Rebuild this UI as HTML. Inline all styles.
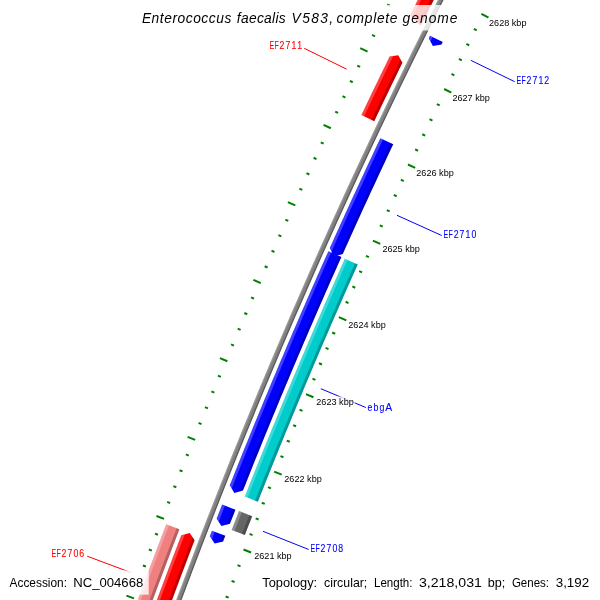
<!DOCTYPE html>
<html><head><meta charset="utf-8"><title>map</title>
<style>html,body{margin:0;padding:0;background:#fff;}svg{display:block;will-change:transform;}</style></head>
<body><svg width="600" height="600" viewBox="0 0 600 600">
<defs><clipPath id="c1"><polygon points="420.70,25.69 464.84,-61.21 452.23,-67.74 410.03,15.27"/></clipPath><clipPath id="c2"><polygon points="374.27,121.15 377.05,115.30 379.84,109.46 382.64,103.61 385.44,97.77 388.25,91.94 391.07,86.10 393.89,80.27 396.72,74.45 399.55,68.62 402.40,62.80 398.25,55.13 389.64,56.57 386.79,62.40 383.95,68.24 381.11,74.08 378.28,79.92 375.46,85.77 372.64,91.62 369.83,97.48 367.03,103.33 364.23,109.19 361.44,115.06"/></clipPath><clipPath id="c3"><polygon points="429.98,35.77 428.75,38.26 432.87,45.94 441.47,44.57 442.70,42.08"/></clipPath><clipPath id="c4"><polygon points="380.38,138.15 377.51,144.23 374.65,150.31 371.79,156.39 368.94,162.48 366.10,168.58 363.27,174.67 360.44,180.77 357.62,186.88 354.80,192.98 352.00,199.09 349.20,205.20 346.41,211.32 343.62,217.44 340.84,223.56 338.07,229.68 335.30,235.81 332.55,241.94 329.80,248.08 333.80,256.51 342.76,253.88 345.50,247.76 348.25,241.64 351.01,235.53 353.77,229.42 356.55,223.31 359.33,217.21 362.11,211.11 364.90,205.01 367.70,198.92 370.51,192.83 373.33,186.74 376.15,180.65 378.97,174.57 381.81,168.49 384.65,162.42 387.50,156.35 390.35,150.28 393.22,144.21"/></clipPath><clipPath id="c5"><polygon points="328.42,251.15 325.69,257.26 322.97,263.37 320.26,269.49 317.56,275.60 314.86,281.72 312.17,287.85 309.48,293.97 306.80,300.10 304.13,306.23 301.47,312.37 298.81,318.51 296.16,324.65 293.52,330.79 290.89,336.94 288.26,343.09 285.64,349.24 283.02,355.40 280.41,361.56 277.81,367.72 275.22,373.89 272.63,380.06 270.05,386.23 267.48,392.40 264.91,398.58 262.36,404.76 259.80,410.94 257.26,417.13 254.72,423.31 252.19,429.51 249.67,435.70 247.15,441.90 244.64,448.10 242.14,454.30 239.65,460.50 237.16,466.71 234.68,472.92 232.20,479.14 229.74,485.36 234.35,492.98 242.94,490.59 245.40,484.38 247.87,478.18 250.34,471.99 252.82,465.79 255.31,459.60 257.81,453.42 260.31,447.23 262.82,441.05 265.34,434.87 267.86,428.69 270.40,422.52 272.93,416.35 275.48,410.18 278.03,404.02 280.59,397.85 283.16,391.70 285.73,385.54 288.31,379.39 290.90,373.24 293.49,367.09 296.09,360.94 298.70,354.80 301.32,348.66 303.94,342.53 306.57,336.40 309.21,330.27 311.85,324.14 314.50,318.02 317.16,311.90 319.82,305.78 322.49,299.67 325.17,293.55 327.85,287.45 330.55,281.34 333.24,275.24 335.95,269.14 338.66,263.04 341.38,256.95"/></clipPath><clipPath id="c6"><polygon points="244.77,496.55 247.21,490.40 249.65,484.25 252.10,478.10 254.55,471.96 257.02,465.82 259.49,459.68 261.97,453.54 264.45,447.41 266.94,441.28 269.44,435.15 271.94,429.02 274.46,422.90 276.97,416.78 279.50,410.66 282.03,404.55 284.57,398.44 287.12,392.33 289.67,386.23 292.23,380.12 294.80,374.02 297.37,367.93 299.95,361.83 302.54,355.74 305.13,349.66 307.74,343.57 310.34,337.49 312.96,331.41 315.58,325.33 318.21,319.26 320.85,313.19 323.49,307.12 326.14,301.06 328.79,295.00 331.46,288.94 334.13,282.89 336.80,276.83 339.49,270.78 342.18,264.74 344.87,258.70 357.75,264.45 355.06,270.48 352.37,276.51 349.70,282.54 347.03,288.58 344.36,294.62 341.71,300.67 339.06,306.71 336.41,312.76 333.78,318.81 331.15,324.87 328.52,330.93 325.91,336.99 323.30,343.05 320.70,349.12 318.10,355.19 315.51,361.26 312.93,367.34 310.36,373.42 307.79,379.50 305.23,385.59 302.68,391.67 300.13,397.76 297.59,403.86 295.06,409.95 292.53,416.05 290.01,422.15 287.50,428.26 284.99,434.37 282.49,440.48 280.00,446.59 277.52,452.71 275.04,458.83 272.57,464.95 270.10,471.07 267.64,477.20 265.19,483.33 262.75,489.46 260.31,495.60 257.88,501.73"/></clipPath><clipPath id="c7"><polygon points="222.16,504.56 220.32,509.27 218.48,513.98 216.65,518.69 221.43,525.97 229.88,523.84 231.71,519.14 233.55,514.44 235.38,509.75"/></clipPath><clipPath id="c8"><polygon points="231.69,529.96 233.53,525.22 235.37,520.48 237.22,515.75 239.08,511.01 252.20,516.16 250.35,520.88 248.51,525.61 246.67,530.33 244.83,535.06"/></clipPath><clipPath id="c9"><polygon points="212.01,530.64 209.83,536.30 214.64,543.56 223.08,541.40 225.26,535.76"/></clipPath><clipPath id="c10"><polygon points="151.18,604.21 153.50,597.95 155.82,591.69 158.15,585.44 160.48,579.19 162.82,572.95 165.17,566.70 167.53,560.46 169.89,554.22 172.26,547.99 174.64,541.75 177.02,535.52 179.41,529.29 166.25,524.23 163.86,530.48 161.47,536.72 159.08,542.97 156.71,549.22 154.34,555.47 151.98,561.73 149.62,567.99 147.28,574.25 144.94,580.51 142.60,586.78 140.28,593.05 137.96,599.32"/></clipPath><clipPath id="c11"><polygon points="168.16,610.47 170.33,604.61 172.51,598.75 174.68,592.89 176.87,587.04 179.06,581.19 181.26,575.34 183.47,569.49 185.68,563.64 187.89,557.80 190.12,551.96 192.35,546.12 194.58,540.28 189.77,533.01 181.32,535.20 179.08,541.05 176.85,546.90 174.62,552.76 172.40,558.61 170.18,564.47 167.97,570.33 165.77,576.20 163.57,582.07 161.38,587.93 159.19,593.81 157.02,599.68 154.84,605.56"/></clipPath></defs>
<rect width="600" height="600" fill="#fff"/>
<path d="M174.17,612.69 L180.03,596.87 L185.94,581.07 L191.90,565.28 L197.90,549.51 L203.95,533.76 L210.04,518.02 L216.18,502.31 L222.36,486.61 L228.58,470.92 L234.85,455.26 L241.17,439.62 L247.53,423.99 L253.94,408.38 L260.39,392.79 L266.88,377.22 L273.42,361.66 L280.01,346.13 L286.64,330.61 L293.31,315.11 L300.03,299.64 L306.79,284.18 L313.59,268.74 L320.44,253.32 L327.34,237.92 L334.28,222.54 L341.26,207.18 L348.29,191.84 L355.36,176.52 L362.47,161.22 L369.63,145.94 L376.83,130.68 L384.07,115.45 L391.36,100.23 L398.70,85.03 L406.07,69.86 L413.49,54.70 L420.96,39.57 L428.46,24.46 L436.01,9.37 L443.60,-5.70 L451.24,-20.74 L458.92,-35.77 L466.64,-50.77" stroke="#808080" stroke-width="5.0" fill="none"/>
<path d="M172.41,612.04 L178.28,596.21 L184.19,580.41 L190.15,564.61 L196.15,548.84 L202.20,533.08 L208.29,517.34 L214.43,501.62 L220.61,485.92 L226.84,470.23 L233.12,454.56 L239.43,438.91 L245.80,423.28 L252.20,407.66 L258.66,392.07 L265.15,376.49 L271.70,360.93 L278.28,345.39 L284.91,329.87 L291.59,314.37 L298.31,298.89 L305.07,283.42 L311.88,267.98 L318.73,252.56 L325.63,237.15 L332.57,221.77 L339.55,206.40 L346.58,191.06 L353.65,175.73 L360.77,160.43 L367.93,145.14 L375.13,129.88 L382.38,114.64 L389.67,99.42 L397.01,84.21 L404.39,69.04 L411.81,53.88 L419.27,38.74 L426.78,23.62 L434.34,8.53 L441.93,-6.54 L449.57,-21.59 L457.25,-36.62 L464.97,-51.63" stroke="#fff" stroke-opacity="0.2" stroke-width="1.25" fill="none"/>
<path d="M175.93,613.34 L181.79,597.52 L187.70,581.72 L193.65,565.94 L199.65,550.18 L205.70,534.43 L211.79,518.70 L217.92,502.99 L224.10,487.30 L230.33,471.62 L236.59,455.96 L242.91,440.32 L249.27,424.70 L255.67,409.09 L262.12,393.51 L268.61,377.94 L275.15,362.39 L281.73,346.86 L288.36,331.35 L295.03,315.86 L301.74,300.38 L308.50,284.93 L315.31,269.50 L322.16,254.08 L329.05,238.69 L335.98,223.31 L342.96,207.96 L349.99,192.62 L357.06,177.31 L364.17,162.01 L371.32,146.74 L378.52,131.49 L385.77,116.25 L393.05,101.04 L400.38,85.85 L407.76,70.68 L415.17,55.53 L422.64,40.40 L430.14,25.30 L437.69,10.21 L445.28,-4.85 L452.91,-19.89 L460.59,-34.91 L468.31,-49.91" stroke="#000" stroke-opacity="0.3" stroke-width="1.25" fill="none"/>
<polygon points="420.70,25.69 464.84,-61.21 452.23,-67.74 410.03,15.27" fill="#ff0000"/>
<g clip-path="url(#c1)"><polygon points="408.37,16.34 411.25,10.58 414.13,4.83 417.01,-0.93 419.90,-6.68 422.80,-12.42 425.70,-18.16 428.61,-23.90 431.53,-29.64 434.45,-35.37 437.38,-41.10 440.32,-46.83 443.26,-52.55 446.21,-58.27 449.16,-63.99 452.12,-69.70 455.67,-67.86 452.71,-62.15 449.76,-56.44 446.82,-50.72 443.88,-45.00 440.94,-39.28 438.02,-33.55 435.10,-27.83 432.18,-22.09 429.27,-16.36 426.37,-10.62 423.48,-4.88 420.59,0.87 417.70,6.62 414.83,12.37 411.96,18.12" fill="#fff" fill-opacity="0.25"/><polygon points="419.29,21.78 422.16,16.03 425.03,10.29 427.91,4.55 430.80,-1.19 433.69,-6.92 436.59,-12.65 439.49,-18.38 442.40,-24.11 445.32,-29.83 448.24,-35.54 451.17,-41.26 454.11,-46.97 457.05,-52.68 460.00,-58.39 462.95,-64.09 466.50,-62.25 463.55,-56.55 460.60,-50.85 457.66,-45.14 454.73,-39.43 451.80,-33.72 448.88,-28.01 445.97,-22.29 443.06,-16.57 440.16,-10.85 437.26,-5.12 434.37,0.61 431.49,6.34 428.61,12.08 425.74,17.82 422.88,23.56" fill="#000" fill-opacity="0.25"/></g>
<polygon points="374.27,121.15 377.05,115.30 379.84,109.46 382.64,103.61 385.44,97.77 388.25,91.94 391.07,86.10 393.89,80.27 396.72,74.45 399.55,68.62 402.40,62.80 398.25,55.13 389.64,56.57 386.79,62.40 383.95,68.24 381.11,74.08 378.28,79.92 375.46,85.77 372.64,91.62 369.83,97.48 367.03,103.33 364.23,109.19 361.44,115.06" fill="#ff0000"/>
<g clip-path="url(#c2)"><polygon points="359.81,116.16 362.68,110.13 365.55,104.11 368.43,98.09 371.32,92.07 374.21,86.06 377.11,80.05 380.02,74.04 382.94,68.03 385.86,62.03 388.78,56.04 391.72,50.04 395.31,51.80 392.38,57.79 389.45,63.79 386.53,69.78 383.62,75.78 380.72,81.79 377.82,87.79 374.93,93.80 372.04,99.81 369.16,105.83 366.29,111.85 363.43,117.87" fill="#fff" fill-opacity="0.25"/><polygon points="370.83,121.39 373.69,115.38 376.56,109.37 379.44,103.36 382.32,97.35 385.20,91.35 388.10,85.35 391.00,79.36 393.91,73.37 396.82,67.38 399.74,61.39 402.67,55.41 406.26,57.17 403.34,63.15 400.42,69.13 397.51,75.12 394.60,81.10 391.70,87.09 388.81,93.09 385.92,99.09 383.04,105.09 380.17,111.09 377.31,117.10 374.45,123.11" fill="#000" fill-opacity="0.25"/></g>
<polygon points="429.98,35.77 428.75,38.26 432.87,45.94 441.47,44.57 442.70,42.08" fill="#0000ff"/>
<g clip-path="url(#c3)"><polygon points="424.86,43.86 427.35,38.83 429.84,33.81 433.42,35.59 430.93,40.61 428.45,45.63" fill="#fff" fill-opacity="0.25"/><polygon points="435.80,49.26 438.28,44.25 440.76,39.24 444.35,41.02 441.86,46.03 439.38,51.04" fill="#000" fill-opacity="0.25"/></g>
<polygon points="380.38,138.15 377.51,144.23 374.65,150.31 371.79,156.39 368.94,162.48 366.10,168.58 363.27,174.67 360.44,180.77 357.62,186.88 354.80,192.98 352.00,199.09 349.20,205.20 346.41,211.32 343.62,217.44 340.84,223.56 338.07,229.68 335.30,235.81 332.55,241.94 329.80,248.08 333.80,256.51 342.76,253.88 345.50,247.76 348.25,241.64 351.01,235.53 353.77,229.42 356.55,223.31 359.33,217.21 362.11,211.11 364.90,205.01 367.70,198.92 370.51,192.83 373.33,186.74 376.15,180.65 378.97,174.57 381.81,168.49 384.65,162.42 387.50,156.35 390.35,150.28 393.22,144.21" fill="#0000ff"/>
<g clip-path="url(#c4)"><polygon points="325.72,254.75 328.38,248.79 331.05,242.84 333.72,236.89 336.40,230.94 339.09,225.00 341.79,219.06 344.49,213.12 347.19,207.18 349.91,201.25 352.63,195.32 355.36,189.39 358.09,183.47 360.83,177.55 363.58,171.63 366.33,165.72 369.09,159.81 371.86,153.90 374.63,148.00 377.41,142.09 380.19,136.19 383.81,137.90 381.03,143.80 378.25,149.70 375.48,155.60 372.71,161.50 369.95,167.41 367.20,173.32 364.46,179.23 361.72,185.15 358.99,191.07 356.26,196.99 353.54,202.92 350.83,208.84 348.13,214.78 345.43,220.71 342.74,226.65 340.05,232.59 337.37,238.53 334.70,244.48 332.03,250.43 329.37,256.38" fill="#fff" fill-opacity="0.25"/><polygon points="336.86,259.72 339.52,253.78 342.18,247.83 344.85,241.90 347.52,235.96 350.20,230.03 352.89,224.10 355.59,218.17 358.29,212.25 361.00,206.33 363.71,200.41 366.44,194.50 369.16,188.59 371.90,182.68 374.64,176.78 377.39,170.87 380.14,164.98 382.90,159.08 385.67,153.19 388.44,147.30 391.22,141.41 394.84,143.12 392.06,149.00 389.29,154.89 386.52,160.78 383.76,166.67 381.01,172.56 378.27,178.46 375.53,184.36 372.79,190.27 370.07,196.17 367.35,202.08 364.64,208.00 361.93,213.91 359.23,219.83 356.54,225.75 353.85,231.68 351.17,237.61 348.49,243.54 345.83,249.47 343.17,255.41 340.51,261.35" fill="#000" fill-opacity="0.25"/></g>
<polygon points="328.42,251.15 325.69,257.26 322.97,263.37 320.26,269.49 317.56,275.60 314.86,281.72 312.17,287.85 309.48,293.97 306.80,300.10 304.13,306.23 301.47,312.37 298.81,318.51 296.16,324.65 293.52,330.79 290.89,336.94 288.26,343.09 285.64,349.24 283.02,355.40 280.41,361.56 277.81,367.72 275.22,373.89 272.63,380.06 270.05,386.23 267.48,392.40 264.91,398.58 262.36,404.76 259.80,410.94 257.26,417.13 254.72,423.31 252.19,429.51 249.67,435.70 247.15,441.90 244.64,448.10 242.14,454.30 239.65,460.50 237.16,466.71 234.68,472.92 232.20,479.14 229.74,485.36 234.35,492.98 242.94,490.59 245.40,484.38 247.87,478.18 250.34,471.99 252.82,465.79 255.31,459.60 257.81,453.42 260.31,447.23 262.82,441.05 265.34,434.87 267.86,428.69 270.40,422.52 272.93,416.35 275.48,410.18 278.03,404.02 280.59,397.85 283.16,391.70 285.73,385.54 288.31,379.39 290.90,373.24 293.49,367.09 296.09,360.94 298.70,354.80 301.32,348.66 303.94,342.53 306.57,336.40 309.21,330.27 311.85,324.14 314.50,318.02 317.16,311.90 319.82,305.78 322.49,299.67 325.17,293.55 327.85,287.45 330.55,281.34 333.24,275.24 335.95,269.14 338.66,263.04 341.38,256.95" fill="#0000ff"/>
<g clip-path="url(#c5)"><polygon points="226.20,491.57 228.68,485.30 231.17,479.03 233.66,472.77 236.16,466.51 238.67,460.25 241.19,453.99 243.71,447.74 246.24,441.49 248.78,435.24 251.32,429.00 253.87,422.75 256.43,416.52 258.99,410.28 261.57,404.05 264.15,397.82 266.73,391.59 269.33,385.37 271.93,379.15 274.54,372.93 277.15,366.71 279.78,360.50 282.40,354.29 285.04,348.09 287.69,341.88 290.34,335.68 292.99,329.49 295.66,323.29 298.33,317.10 301.01,310.91 303.70,304.73 306.39,298.55 309.09,292.37 311.80,286.19 314.51,280.02 317.24,273.85 319.97,267.69 322.70,261.52 325.44,255.36 328.19,249.21 331.85,250.84 329.10,256.99 326.36,263.15 323.62,269.31 320.89,275.47 318.17,281.63 315.46,287.80 312.76,293.97 310.06,300.15 307.37,306.33 304.68,312.51 302.00,318.69 299.33,324.88 296.67,331.07 294.01,337.26 291.36,343.45 288.72,349.65 286.09,355.85 283.46,362.06 280.84,368.27 278.23,374.48 275.62,380.69 273.02,386.91 270.43,393.13 267.84,399.35 265.26,405.58 262.69,411.80 260.13,418.04 257.57,424.27 255.02,430.51 252.48,436.75 249.95,442.99 247.42,449.24 244.90,455.49 242.38,461.74 239.88,467.99 237.38,474.25 234.89,480.51 232.40,486.77 229.92,493.04" fill="#fff" fill-opacity="0.25"/><polygon points="237.55,496.05 240.02,489.79 242.51,483.54 244.99,477.29 247.49,471.04 249.99,464.79 252.50,458.55 255.02,452.31 257.55,446.07 260.08,439.84 262.62,433.61 265.16,427.38 267.71,421.15 270.27,414.93 272.84,408.71 275.42,402.49 278.00,396.28 280.59,390.07 283.18,383.86 285.78,377.65 288.39,371.45 291.01,365.25 293.64,359.06 296.27,352.86 298.91,346.67 301.55,340.49 304.20,334.30 306.86,328.12 309.53,321.94 312.20,315.77 314.88,309.60 317.57,303.43 320.27,297.26 322.97,291.10 325.68,284.94 328.40,278.78 331.12,272.63 333.85,266.48 336.59,260.33 339.33,254.19 342.98,255.82 340.24,261.96 337.50,268.11 334.78,274.25 332.05,280.40 329.34,286.55 326.63,292.71 323.93,298.87 321.24,305.03 318.55,311.19 315.87,317.36 313.20,323.53 310.54,329.70 307.88,335.88 305.23,342.06 302.58,348.24 299.95,354.43 297.32,360.62 294.70,366.81 292.08,373.00 289.47,379.20 286.87,385.40 284.28,391.61 281.69,397.81 279.11,404.02 276.54,410.24 273.97,416.45 271.41,422.67 268.86,428.89 266.32,435.12 263.78,441.34 261.25,447.57 258.73,453.81 256.21,460.04 253.71,466.28 251.20,472.52 248.71,478.77 246.22,485.02 243.74,491.27 241.27,497.52" fill="#000" fill-opacity="0.25"/></g>
<polygon points="244.77,496.55 247.21,490.40 249.65,484.25 252.10,478.10 254.55,471.96 257.02,465.82 259.49,459.68 261.97,453.54 264.45,447.41 266.94,441.28 269.44,435.15 271.94,429.02 274.46,422.90 276.97,416.78 279.50,410.66 282.03,404.55 284.57,398.44 287.12,392.33 289.67,386.23 292.23,380.12 294.80,374.02 297.37,367.93 299.95,361.83 302.54,355.74 305.13,349.66 307.74,343.57 310.34,337.49 312.96,331.41 315.58,325.33 318.21,319.26 320.85,313.19 323.49,307.12 326.14,301.06 328.79,295.00 331.46,288.94 334.13,282.89 336.80,276.83 339.49,270.78 342.18,264.74 344.87,258.70 357.75,264.45 355.06,270.48 352.37,276.51 349.70,282.54 347.03,288.58 344.36,294.62 341.71,300.67 339.06,306.71 336.41,312.76 333.78,318.81 331.15,324.87 328.52,330.93 325.91,336.99 323.30,343.05 320.70,349.12 318.10,355.19 315.51,361.26 312.93,367.34 310.36,373.42 307.79,379.50 305.23,385.59 302.68,391.67 300.13,397.76 297.59,403.86 295.06,409.95 292.53,416.05 290.01,422.15 287.50,428.26 284.99,434.37 282.49,440.48 280.00,446.59 277.52,452.71 275.04,458.83 272.57,464.95 270.10,471.07 267.64,477.20 265.19,483.33 262.75,489.46 260.31,495.60 257.88,501.73" fill="#00cccc"/>
<g clip-path="url(#c6)"><polygon points="243.22,497.75 245.69,491.51 248.16,485.28 250.64,479.05 253.13,472.83 255.62,466.60 258.13,460.38 260.63,454.16 263.15,447.95 265.67,441.74 268.20,435.53 270.74,429.32 273.28,423.12 275.84,416.92 278.39,410.72 280.96,404.52 283.53,398.33 286.11,392.14 288.70,385.96 291.29,379.78 293.89,373.60 296.50,367.42 299.12,361.24 301.74,355.07 304.37,348.91 307.00,342.74 309.65,336.58 312.30,330.42 314.95,324.26 317.62,318.11 320.29,311.96 322.97,305.82 325.65,299.67 328.35,293.53 331.05,287.39 333.75,281.26 336.47,275.13 339.19,269.00 341.91,262.87 344.65,256.75 348.30,258.39 345.57,264.50 342.84,270.62 340.12,276.75 337.41,282.88 334.71,289.01 332.01,295.14 329.32,301.28 326.63,307.42 323.96,313.56 321.29,319.70 318.63,325.85 315.97,332.00 313.32,338.16 310.68,344.32 308.05,350.48 305.42,356.64 302.80,362.81 300.19,368.98 297.58,375.15 294.98,381.33 292.39,387.50 289.80,393.69 287.23,399.87 284.65,406.06 282.09,412.25 279.53,418.44 276.98,424.64 274.44,430.84 271.91,437.04 269.38,443.24 266.86,449.45 264.34,455.66 261.84,461.88 259.34,468.09 256.84,474.31 254.36,480.53 251.88,486.76 249.41,492.99 246.94,499.22" fill="#fff" fill-opacity="0.25"/><polygon points="254.48,502.19 256.94,495.97 259.41,489.75 261.88,483.53 264.36,477.32 266.85,471.11 269.35,464.90 271.85,458.70 274.36,452.50 276.88,446.30 279.41,440.10 281.94,433.91 284.48,427.72 287.02,421.53 289.58,415.34 292.14,409.16 294.70,402.98 297.28,396.81 299.86,390.63 302.45,384.46 305.04,378.30 307.65,372.13 310.26,365.97 312.87,359.81 315.50,353.66 318.13,347.50 320.76,341.36 323.41,335.21 326.06,329.07 328.72,322.93 331.39,316.79 334.06,310.66 336.74,304.52 339.42,298.40 342.12,292.27 344.82,286.15 347.53,280.03 350.24,273.92 352.96,267.80 355.69,261.69 359.34,263.33 356.62,269.43 353.90,275.54 351.18,281.65 348.48,287.77 345.78,293.88 343.09,300.00 340.40,306.13 337.72,312.26 335.05,318.38 332.39,324.52 329.73,330.65 327.08,336.79 324.44,342.93 321.80,349.08 319.17,355.23 316.55,361.38 313.94,367.53 311.33,373.69 308.73,379.85 306.14,386.01 303.55,392.18 300.97,398.35 298.40,404.52 295.83,410.69 293.27,416.87 290.72,423.05 288.18,429.24 285.64,435.42 283.11,441.61 280.59,447.80 278.07,454.00 275.56,460.20 273.06,466.40 270.57,472.60 268.08,478.81 265.60,485.02 263.12,491.23 260.66,497.44 258.20,503.66" fill="#000" fill-opacity="0.25"/></g>
<polygon points="222.16,504.56 220.32,509.27 218.48,513.98 216.65,518.69 221.43,525.97 229.88,523.84 231.71,519.14 233.55,514.44 235.38,509.75" fill="#0000ff"/>
<g clip-path="url(#c7)"><polygon points="213.27,524.62 215.41,519.12 217.55,513.62 219.70,508.12 221.85,502.63 225.57,504.09 223.42,509.58 221.28,515.07 219.14,520.57 217.00,526.06" fill="#fff" fill-opacity="0.25"/><polygon points="224.65,529.03 226.78,523.54 228.92,518.05 231.06,512.57 233.21,507.09 236.93,508.55 234.78,514.03 232.64,519.51 230.51,524.99 228.38,530.47" fill="#000" fill-opacity="0.25"/></g>
<polygon points="231.69,529.96 233.53,525.22 235.37,520.48 237.22,515.75 239.08,511.01 252.20,516.16 250.35,520.88 248.51,525.61 246.67,530.33 244.83,535.06" fill="#666666"/>
<g clip-path="url(#c8)"><polygon points="230.15,531.16 232.29,525.64 234.44,520.12 236.60,514.60 238.76,509.09 242.48,510.55 240.32,516.06 238.17,521.57 236.02,527.09 233.88,532.61" fill="#fff" fill-opacity="0.25"/><polygon points="241.43,535.54 243.57,530.02 245.72,524.52 247.87,519.01 250.02,513.51 253.75,514.97 251.59,520.47 249.44,525.97 247.30,531.47 245.16,536.98" fill="#000" fill-opacity="0.25"/></g>
<polygon points="212.01,530.64 209.83,536.30 214.64,543.56 223.08,541.40 225.26,535.76" fill="#0000ff"/>
<g clip-path="url(#c9)"><polygon points="206.47,542.23 208.21,537.72 209.95,533.21 211.69,528.70 215.42,530.15 213.68,534.65 211.94,539.16 210.21,543.66" fill="#fff" fill-opacity="0.25"/><polygon points="217.86,546.60 219.59,542.10 221.33,537.60 223.07,533.11 226.80,534.55 225.06,539.04 223.33,543.54 221.60,548.04" fill="#000" fill-opacity="0.25"/></g>
<polygon points="151.18,604.21 153.50,597.95 155.82,591.69 158.15,585.44 160.48,579.19 162.82,572.95 165.17,566.70 167.53,560.46 169.89,554.22 172.26,547.99 174.64,541.75 177.02,535.52 179.41,529.29 166.25,524.23 163.86,530.48 161.47,536.72 159.08,542.97 156.71,549.22 154.34,555.47 151.98,561.73 149.62,567.99 147.28,574.25 144.94,580.51 142.60,586.78 140.28,593.05 137.96,599.32" fill="#f08080"/>
<g clip-path="url(#c10)"><polygon points="136.43,600.57 138.66,594.53 140.90,588.50 143.14,582.47 145.39,576.44 147.65,570.41 149.91,564.39 152.18,558.37 154.45,552.35 156.74,546.33 159.02,540.32 161.32,534.30 163.62,528.29 165.93,522.29 169.66,523.73 167.36,529.73 165.06,535.73 162.76,541.74 160.47,547.75 158.19,553.76 155.92,559.78 153.65,565.80 151.39,571.82 149.14,577.84 146.89,583.86 144.65,589.89 142.41,595.92 140.18,601.95" fill="#fff" fill-opacity="0.25"/><polygon points="147.78,604.76 150.01,598.73 152.24,592.71 154.48,586.69 156.72,580.68 158.98,574.66 161.23,568.65 163.50,562.64 165.77,556.63 168.05,550.63 170.33,544.63 172.62,538.63 174.92,532.63 177.22,526.63 180.96,528.07 178.65,534.06 176.36,540.06 174.07,546.05 171.79,552.05 169.51,558.05 167.24,564.05 164.98,570.06 162.72,576.07 160.47,582.08 158.23,588.09 155.99,594.10 153.76,600.12 151.54,606.14" fill="#000" fill-opacity="0.25"/></g>
<polygon points="168.16,610.47 170.33,604.61 172.51,598.75 174.68,592.89 176.87,587.04 179.06,581.19 181.26,575.34 183.47,569.49 185.68,563.64 187.89,557.80 190.12,551.96 192.35,546.12 194.58,540.28 189.77,533.01 181.32,535.20 179.08,541.05 176.85,546.90 174.62,552.76 172.40,558.61 170.18,564.47 167.97,570.33 165.77,576.20 163.57,582.07 161.38,587.93 159.19,593.81 157.02,599.68 154.84,605.56" fill="#ff0000"/>
<g clip-path="url(#c11)"><polygon points="153.32,606.80 155.55,600.76 157.78,594.73 160.03,588.70 162.28,582.67 164.53,576.64 166.80,570.62 169.07,564.59 171.34,558.58 173.62,552.56 175.91,546.54 178.21,540.53 180.51,534.52 182.82,528.52 186.55,529.95 184.25,535.96 181.94,541.96 179.65,547.97 177.36,553.98 175.08,559.99 172.81,566.01 170.54,572.03 168.28,578.05 166.02,584.07 163.78,590.09 161.53,596.12 159.30,602.15 157.07,608.18" fill="#fff" fill-opacity="0.25"/><polygon points="164.76,611.02 166.99,605.00 169.22,598.97 171.46,592.96 173.71,586.94 175.96,580.92 178.22,574.91 180.48,568.90 182.75,562.90 185.03,556.89 187.31,550.89 189.60,544.89 191.90,538.89 194.20,532.90 197.94,534.34 195.64,540.33 193.34,546.32 191.05,552.32 188.77,558.31 186.49,564.31 184.22,570.32 181.96,576.32 179.70,582.33 177.45,588.34 175.21,594.35 172.97,600.37 170.74,606.38 168.52,612.40" fill="#000" fill-opacity="0.25"/></g>
<path d="M134.03,598.42L126.43,595.61M139.93,582.48L136.94,581.36M145.89,566.56L142.89,565.44M225.65,596.52L228.64,597.64M151.88,550.66L148.89,549.53M231.56,580.84L234.55,581.98M157.93,534.78L154.94,533.64M237.51,565.19L240.50,566.33M164.02,518.91L156.46,516.00M243.52,549.55L251.07,552.46M170.15,503.06L167.17,501.90M249.56,533.93L252.54,535.09M176.33,487.23L173.35,486.06M255.65,518.32L258.63,519.49M182.55,471.42L179.58,470.24M261.79,502.74L264.76,503.91M188.82,455.62L185.85,454.44M267.97,487.17L270.94,488.35M195.14,439.84L187.62,436.82M274.19,471.62L281.71,474.64M201.50,424.08L198.53,422.88M280.46,456.08L283.43,457.29M207.91,408.34L204.94,407.13M286.78,440.57L289.74,441.78M214.36,392.62L211.40,391.40M293.13,425.07L296.09,426.29M220.85,376.92L217.90,375.69M299.54,409.59L302.49,410.82M227.39,361.23L219.92,358.10M305.98,394.13L313.45,397.26M233.98,345.56L231.03,344.32M312.47,378.69L315.42,379.94M240.61,329.92L237.66,328.66M319.01,363.27L321.95,364.52M247.28,314.29L244.34,313.03M325.59,347.86L328.53,349.13M254.00,298.68L251.07,297.41M332.21,332.48L335.15,333.75M260.77,283.09L253.34,279.85M338.88,317.11L346.31,320.35M267.58,267.52L264.65,266.23M345.59,301.77L348.52,303.05M274.43,251.97L271.50,250.67M352.35,286.44L355.27,287.73M281.33,236.43L278.41,235.13M359.15,271.13L362.07,272.43M288.27,220.92L285.35,219.61M365.99,255.84L368.91,257.15M295.26,205.43L287.88,202.09M372.88,240.57L380.25,243.91M302.29,189.96L299.38,188.63M379.81,225.32L382.72,226.65M309.37,174.51L306.46,173.17M386.78,210.09L389.69,211.43M316.49,159.08L313.58,157.73M393.80,194.88L396.70,196.23M323.65,143.66L320.75,142.31M400.86,179.69L403.76,181.05M330.86,128.27L323.53,124.83M407.96,164.52L415.29,167.97M338.11,112.91L335.22,111.54M415.11,149.38L418.00,150.74M345.41,97.56L342.52,96.18M422.30,134.25L425.19,135.62M352.75,82.23L349.87,80.84M429.54,119.14L432.42,120.53M360.13,66.92L357.25,65.53M436.82,104.05L439.70,105.45M367.56,51.64L360.28,48.09M444.14,88.99L451.42,92.54M375.03,36.37L372.16,34.96M451.50,73.94L454.38,75.35M382.55,21.13L379.68,19.71M458.91,58.92L461.78,60.34M390.11,5.91L387.24,4.48M466.36,43.92L469.23,45.34M473.86,28.94L476.72,30.37M481.39,13.98L488.62,17.63" stroke="#008000" stroke-width="2" fill="none"/>
<line x1="304.2" y1="48.3" x2="346.7" y2="69.2" stroke="#ff0000" stroke-width="1"/>
<line x1="470.8" y1="60.3" x2="514.7" y2="81.7" stroke="#0000ff" stroke-width="1"/>
<line x1="397" y1="215.3" x2="441.7" y2="235.5" stroke="#0000ff" stroke-width="1"/>
<line x1="320.8" y1="388.7" x2="365.8" y2="407.5" stroke="#0000ff" stroke-width="1"/>
<line x1="263" y1="531.3" x2="308.7" y2="549.5" stroke="#0000ff" stroke-width="1"/>
<line x1="87.2" y1="556.2" x2="130.8" y2="572.5" stroke="#ff0000" stroke-width="1"/>
<rect x="488" y="17.5" width="39.5" height="10.5" fill="#fff" fill-opacity="0.8"/>
<text x="489" y="26" font-family="Liberation Sans, sans-serif" font-size="8.2" fill="#000" textLength="37.5" lengthAdjust="spacingAndGlyphs">2628 kbp</text>
<rect x="451.4" y="92.4" width="39.5" height="10.5" fill="#fff" fill-opacity="0.8"/>
<text x="452.4" y="100.9" font-family="Liberation Sans, sans-serif" font-size="8.2" fill="#000" textLength="37.5" lengthAdjust="spacingAndGlyphs">2627 kbp</text>
<rect x="415.3" y="167.4" width="39.5" height="10.5" fill="#fff" fill-opacity="0.8"/>
<text x="416.3" y="175.9" font-family="Liberation Sans, sans-serif" font-size="8.2" fill="#000" textLength="37.5" lengthAdjust="spacingAndGlyphs">2626 kbp</text>
<rect x="381.4" y="243.2" width="39.5" height="10.5" fill="#fff" fill-opacity="0.8"/>
<text x="382.4" y="251.7" font-family="Liberation Sans, sans-serif" font-size="8.2" fill="#000" textLength="37.5" lengthAdjust="spacingAndGlyphs">2625 kbp</text>
<rect x="347.3" y="319.4" width="39.5" height="10.5" fill="#fff" fill-opacity="0.8"/>
<text x="348.3" y="327.9" font-family="Liberation Sans, sans-serif" font-size="8.2" fill="#000" textLength="37.5" lengthAdjust="spacingAndGlyphs">2624 kbp</text>
<rect x="315.3" y="396.5" width="39.5" height="10.5" fill="#fff" fill-opacity="0.8"/>
<text x="316.3" y="405" font-family="Liberation Sans, sans-serif" font-size="8.2" fill="#000" textLength="37.5" lengthAdjust="spacingAndGlyphs">2623 kbp</text>
<rect x="283.3" y="473.6" width="39.5" height="10.5" fill="#fff" fill-opacity="0.8"/>
<text x="284.3" y="482.1" font-family="Liberation Sans, sans-serif" font-size="8.2" fill="#000" textLength="37.5" lengthAdjust="spacingAndGlyphs">2622 kbp</text>
<rect x="253.2" y="550.2" width="39.5" height="10.5" fill="#fff" fill-opacity="0.8"/>
<text x="254.2" y="558.7" font-family="Liberation Sans, sans-serif" font-size="8.2" fill="#000" textLength="37.5" lengthAdjust="spacingAndGlyphs">2621 kbp</text>
<text transform="translate(269.40,48.8) scale(0.66,1)" font-family="Liberation Sans, sans-serif" font-size="10.4" fill="#ff0000" stroke="#ff0000" stroke-width="0.12">E</text>
<text transform="translate(274.50,48.8) scale(0.66,1)" font-family="Liberation Sans, sans-serif" font-size="10.4" fill="#ff0000" stroke="#ff0000" stroke-width="0.12">F</text>
<text transform="translate(279.62,48.8) scale(0.84,1)" font-family="Liberation Sans, sans-serif" font-size="10.4" fill="#ff0000" stroke="#ff0000" stroke-width="0.12">2</text>
<text transform="translate(285.52,48.8) scale(0.84,1)" font-family="Liberation Sans, sans-serif" font-size="10.4" fill="#ff0000" stroke="#ff0000" stroke-width="0.12">7</text>
<text transform="translate(291.42,48.8) scale(0.84,1)" font-family="Liberation Sans, sans-serif" font-size="10.4" fill="#ff0000" stroke="#ff0000" stroke-width="0.12">1</text>
<text transform="translate(297.32,48.8) scale(0.84,1)" font-family="Liberation Sans, sans-serif" font-size="10.4" fill="#ff0000" stroke="#ff0000" stroke-width="0.12">1</text>
<text transform="translate(516.40,83.7) scale(0.66,1)" font-family="Liberation Sans, sans-serif" font-size="10.4" fill="#0000ff" stroke="#0000ff" stroke-width="0.12">E</text>
<text transform="translate(521.50,83.7) scale(0.66,1)" font-family="Liberation Sans, sans-serif" font-size="10.4" fill="#0000ff" stroke="#0000ff" stroke-width="0.12">F</text>
<text transform="translate(526.62,83.7) scale(0.84,1)" font-family="Liberation Sans, sans-serif" font-size="10.4" fill="#0000ff" stroke="#0000ff" stroke-width="0.12">2</text>
<text transform="translate(532.52,83.7) scale(0.84,1)" font-family="Liberation Sans, sans-serif" font-size="10.4" fill="#0000ff" stroke="#0000ff" stroke-width="0.12">7</text>
<text transform="translate(538.42,83.7) scale(0.84,1)" font-family="Liberation Sans, sans-serif" font-size="10.4" fill="#0000ff" stroke="#0000ff" stroke-width="0.12">1</text>
<text transform="translate(544.32,83.7) scale(0.84,1)" font-family="Liberation Sans, sans-serif" font-size="10.4" fill="#0000ff" stroke="#0000ff" stroke-width="0.12">2</text>
<text transform="translate(443.50,237.6) scale(0.66,1)" font-family="Liberation Sans, sans-serif" font-size="10.4" fill="#0000ff" stroke="#0000ff" stroke-width="0.12">E</text>
<text transform="translate(448.60,237.6) scale(0.66,1)" font-family="Liberation Sans, sans-serif" font-size="10.4" fill="#0000ff" stroke="#0000ff" stroke-width="0.12">F</text>
<text transform="translate(453.72,237.6) scale(0.84,1)" font-family="Liberation Sans, sans-serif" font-size="10.4" fill="#0000ff" stroke="#0000ff" stroke-width="0.12">2</text>
<text transform="translate(459.62,237.6) scale(0.84,1)" font-family="Liberation Sans, sans-serif" font-size="10.4" fill="#0000ff" stroke="#0000ff" stroke-width="0.12">7</text>
<text transform="translate(465.52,237.6) scale(0.84,1)" font-family="Liberation Sans, sans-serif" font-size="10.4" fill="#0000ff" stroke="#0000ff" stroke-width="0.12">1</text>
<text transform="translate(471.42,237.6) scale(0.84,1)" font-family="Liberation Sans, sans-serif" font-size="10.4" fill="#0000ff" stroke="#0000ff" stroke-width="0.12">0</text>
<text transform="translate(367.60,410.5) scale(0.84,1)" font-family="Liberation Sans, sans-serif" font-size="10.4" fill="#0000ff" stroke="#0000ff" stroke-width="0.12">e</text>
<text transform="translate(373.50,410.5) scale(0.84,1)" font-family="Liberation Sans, sans-serif" font-size="10.4" fill="#0000ff" stroke="#0000ff" stroke-width="0.12">b</text>
<text transform="translate(379.60,410.5) scale(0.84,1)" font-family="Liberation Sans, sans-serif" font-size="10.4" fill="#0000ff" stroke="#0000ff" stroke-width="0.12">g</text>
<text transform="translate(385.20,410.5) scale(1.0,1)" font-family="Liberation Sans, sans-serif" font-size="10.4" fill="#0000ff" stroke="#0000ff" stroke-width="0.12">A</text>
<text transform="translate(310.40,551.7) scale(0.66,1)" font-family="Liberation Sans, sans-serif" font-size="10.4" fill="#0000ff" stroke="#0000ff" stroke-width="0.12">E</text>
<text transform="translate(315.50,551.7) scale(0.66,1)" font-family="Liberation Sans, sans-serif" font-size="10.4" fill="#0000ff" stroke="#0000ff" stroke-width="0.12">F</text>
<text transform="translate(320.62,551.7) scale(0.84,1)" font-family="Liberation Sans, sans-serif" font-size="10.4" fill="#0000ff" stroke="#0000ff" stroke-width="0.12">2</text>
<text transform="translate(326.52,551.7) scale(0.84,1)" font-family="Liberation Sans, sans-serif" font-size="10.4" fill="#0000ff" stroke="#0000ff" stroke-width="0.12">7</text>
<text transform="translate(332.42,551.7) scale(0.84,1)" font-family="Liberation Sans, sans-serif" font-size="10.4" fill="#0000ff" stroke="#0000ff" stroke-width="0.12">0</text>
<text transform="translate(338.32,551.7) scale(0.84,1)" font-family="Liberation Sans, sans-serif" font-size="10.4" fill="#0000ff" stroke="#0000ff" stroke-width="0.12">8</text>
<text transform="translate(51.40,556.7) scale(0.66,1)" font-family="Liberation Sans, sans-serif" font-size="10.4" fill="#ff0000" stroke="#ff0000" stroke-width="0.12">E</text>
<text transform="translate(56.50,556.7) scale(0.66,1)" font-family="Liberation Sans, sans-serif" font-size="10.4" fill="#ff0000" stroke="#ff0000" stroke-width="0.12">F</text>
<text transform="translate(61.62,556.7) scale(0.84,1)" font-family="Liberation Sans, sans-serif" font-size="10.4" fill="#ff0000" stroke="#ff0000" stroke-width="0.12">2</text>
<text transform="translate(67.52,556.7) scale(0.84,1)" font-family="Liberation Sans, sans-serif" font-size="10.4" fill="#ff0000" stroke="#ff0000" stroke-width="0.12">7</text>
<text transform="translate(73.42,556.7) scale(0.84,1)" font-family="Liberation Sans, sans-serif" font-size="10.4" fill="#ff0000" stroke="#ff0000" stroke-width="0.12">0</text>
<text transform="translate(79.32,556.7) scale(0.84,1)" font-family="Liberation Sans, sans-serif" font-size="10.4" fill="#ff0000" stroke="#ff0000" stroke-width="0.12">6</text>
<rect x="136" y="5" width="328" height="25.5" fill="#fff" fill-opacity="0.8"/>
<text x="141.9" y="22.7" font-family="Liberation Sans, sans-serif" font-size="13.8" font-style="italic" fill="#000" textLength="89.4" lengthAdjust="spacing">Enterococcus</text>
<text x="236.8" y="22.7" font-family="Liberation Sans, sans-serif" font-size="13.8" font-style="italic" fill="#000" textLength="48.9" lengthAdjust="spacing">faecalis</text>
<text x="291.6" y="22.7" font-family="Liberation Sans, sans-serif" font-size="13.8" font-style="italic" fill="#000" textLength="41.4" lengthAdjust="spacing">V583,</text>
<text x="336.6" y="22.7" font-family="Liberation Sans, sans-serif" font-size="13.8" font-style="italic" fill="#000" textLength="60.9" lengthAdjust="spacing">complete</text>
<text x="402.6" y="22.7" font-family="Liberation Sans, sans-serif" font-size="13.8" font-style="italic" fill="#000" textLength="54.9" lengthAdjust="spacing">genome</text>
<rect x="4" y="570.3" width="144.7" height="24.4" fill="#fff" fill-opacity="0.8"/>
<text x="9.5" y="586.9" font-family="Liberation Sans, sans-serif" font-size="12.4"  fill="#000" textLength="57.5" lengthAdjust="spacingAndGlyphs">Accession:</text>
<text x="73.25" y="586.9" font-family="Liberation Sans, sans-serif" font-size="12.4"  fill="#000" textLength="70.0" lengthAdjust="spacingAndGlyphs">NC_004668</text>
<rect x="257.7" y="570.3" width="337.5" height="24.4" fill="#fff" fill-opacity="0.8"/>
<text x="262.3" y="586.9" font-family="Liberation Sans, sans-serif" font-size="12.4"  fill="#000" textLength="54.8" lengthAdjust="spacingAndGlyphs">Topology:</text>
<text x="324.1" y="586.9" font-family="Liberation Sans, sans-serif" font-size="12.4"  fill="#000" textLength="43.2" lengthAdjust="spacingAndGlyphs">circular;</text>
<text x="374" y="586.9" font-family="Liberation Sans, sans-serif" font-size="12.4"  fill="#000" textLength="38.5" lengthAdjust="spacingAndGlyphs">Length:</text>
<text x="418.9" y="586.9" font-family="Liberation Sans, sans-serif" font-size="12.4"  fill="#000" textLength="63.0" lengthAdjust="spacingAndGlyphs">3,218,031</text>
<text x="487.7" y="586.9" font-family="Liberation Sans, sans-serif" font-size="12.4"  fill="#000" textLength="17.5" lengthAdjust="spacingAndGlyphs">bp;</text>
<text x="511.9" y="586.9" font-family="Liberation Sans, sans-serif" font-size="12.4"  fill="#000" textLength="37.1" lengthAdjust="spacingAndGlyphs">Genes:</text>
<text x="555.7" y="586.9" font-family="Liberation Sans, sans-serif" font-size="12.4"  fill="#000" textLength="33.5" lengthAdjust="spacingAndGlyphs">3,192</text>
</svg></body></html>
